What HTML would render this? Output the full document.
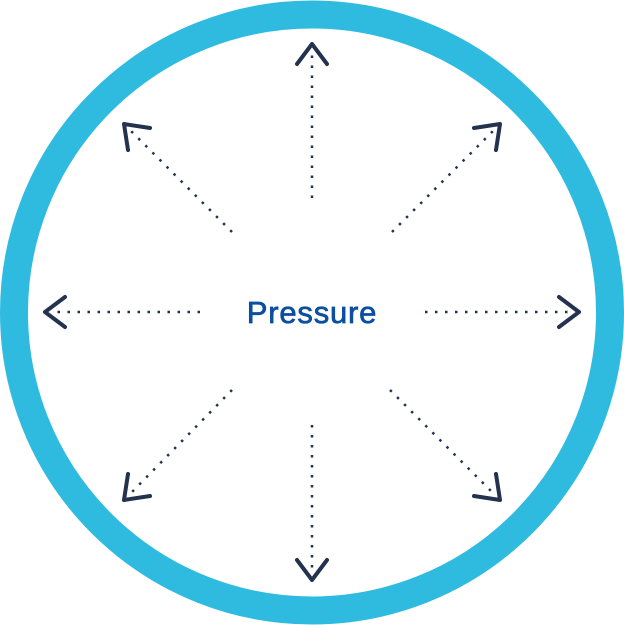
<!DOCTYPE html>
<html><head><style>body{margin:0;background:#fff}svg{display:block}</style></head><body>
<svg width="624" height="625" viewBox="0 0 624 625" xmlns="http://www.w3.org/2000/svg">
<circle cx="312" cy="312.5" r="298" fill="none" stroke="#2fbbdf" stroke-width="28"/>
<g stroke="#23324f" stroke-width="2.5" stroke-dasharray="2.5 7.5" fill="none">
<line x1="312" y1="198" x2="312" y2="52"/>
<line x1="312" y1="425" x2="312" y2="572"/>
<line x1="200" y1="312" x2="52" y2="312"/>
<line x1="425" y1="312" x2="572" y2="312"/>
<line x1="232" y1="232" x2="130" y2="130"/>
<line x1="392" y1="232" x2="494" y2="130"/>
<line x1="232" y1="390" x2="130" y2="494"/>
<line x1="390" y1="390" x2="494" y2="494"/>
</g>
<g stroke="#23324f" stroke-width="4" fill="none" stroke-linecap="round" stroke-linejoin="round">
<polyline points="297,64 312,44 327,64"/>
<polyline points="297,560 312,580 327,560"/>
<polyline points="65,297 45,312 65,327"/>
<polyline points="559,297 579,312 559,327"/>
<polyline points="150,128 124,124 128,150"/>
<polyline points="474,128 500,124 496,150"/>
<polyline points="128,474 124,500 150,496"/>
<polyline points="496,474 500,500 474,496"/>
</g>
<text x="312" y="323" text-anchor="middle" font-family="Liberation Sans, sans-serif" font-size="31" letter-spacing="0.8" fill="#0b4fa0" stroke="#0b4fa0" stroke-width="0.7">Pressure</text>
</svg>
</body></html>
